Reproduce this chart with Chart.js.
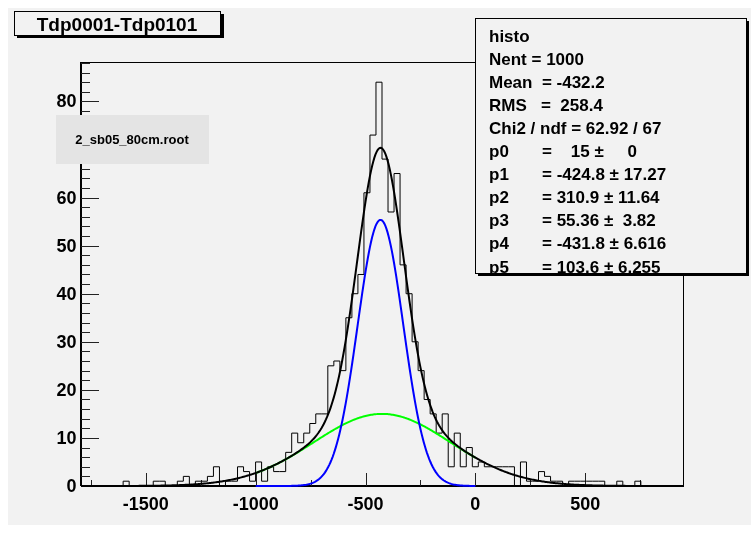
<!DOCTYPE html>
<html>
<head>
<meta charset="utf-8">
<script src="https://cdn.jsdelivr.net/npm/chart.js@4.4.1/dist/chart.umd.min.js"></script>
<style>
html,body{margin:0;padding:0;background:#fff}
canvas{display:block}
</style>
</head>
<body>
<canvas id="histo" width="751" height="534"></canvas>
<script>
/* ---------------- DATA ---------------- */

const histTitle = "Tdp0001-Tdp0101"
const fileLabel = "2_sb05_80cm.root"

// histogram binning (100 bins)
const xMin = -1795
const xMax = 945
const binCounts = [
0,0,0,0,0,0,0,1,0,0,
0,0,1,1,0,0,1,2,0,1,
1,2,4,0,1,1,4,3,1,5,
1,4,3,3,7,11,9,11,13,15,
15,25,26,24,35,40,44,61,73,84,
68,57,65,46,40,30,24,18,15,11,
15,4,11,4,8,4,5,4,4,4,
4,4,0,5,1,1,3,2,1,1,
0,1,1,1,1,1,1,0,0,1,
0,0,1,0,0,0,0,0,0,0
]

// fit parameters from the stats box
const parNames = ["p0","p1","p2","p3","p4","p5"]
const parValues = [15,-424.8,310.9,55.36,-431.8,103.6]
const parText = ["=    15 \u00b1     0","= -424.8 \u00b1 17.27","= 310.9 \u00b1 11.64","= 55.36 \u00b1  3.82","= -431.8 \u00b1 6.616","= 103.6 \u00b1 6.255"]
const partRange = [-1000,0]

const statLines = ["histo","Nent = 1000","Mean  = -432.2","RMS   =  258.4","Chi2 / ndf = 62.92 / 67"]

const xTickLabels = [-1500,-1000,-500,0,500]
const yTickLabels = [0,10,20,30,40,50,60,70,80]
const yMax = 88.2

/* ---------------- BUILD SERIES ---------------- */

const binWidth = (xMax - xMin) / binCounts.length
const histPoints = binCounts.map((c,i) => ({x: xMin + i*binWidth, y: c}))
histPoints.push({x: xMax, y: binCounts[binCounts.length-1]})

function gaus(x, a, m, s){
return a*Math.exp(-0.5*((x-m)/s)*((x-m)/s))
}
function sample(from, to, fn){
const pts = []
for(let x = from; x <= to + 0.001; x += 5){
pts.push({x: x, y: fn(x)})
}
return pts
}
const p = parValues
const totalFit = sample(xMin, xMax, x => gaus(x,p[0],p[1],p[2]) + gaus(x,p[3],p[4],p[5]))
const wideFit = sample(partRange[0], partRange[1], x => gaus(x,p[0],p[1],p[2]))
const narrowFit = sample(partRange[0], partRange[1], x => gaus(x,p[3],p[4],p[5]))

/* ---------------- DECORATION PLUGIN ---------------- */

const FONT = '"Liberation Sans", Arial, Helvetica, sans-serif'

const rootPad = {
id: "rootPad",
beforeDraw(chart){
const c = chart.ctx
c.save()
c.fillStyle = "#ffffff"
c.fillRect(0,0,chart.width,chart.height)
c.fillStyle = "#f2f2f2"
c.fillRect(8,8,chart.width-8,517)
c.restore()
},
beforeDatasetsDraw(chart){
const c = chart.ctx
const xs = chart.scales.x
const ys = chart.scales.y
const a = chart.chartArea
c.save()

// frame
c.strokeStyle = "#000"
c.lineWidth = 1
c.strokeRect(Math.round(a.left)+0.5, Math.round(a.top)+0.5, Math.round(a.right-a.left), Math.round(a.bottom-a.top))
c.lineWidth = 2
c.beginPath()
c.moveTo(a.left, a.bottom)
c.lineTo(a.right, a.bottom)
c.moveTo(a.left, a.bottom)
c.lineTo(a.left, a.top)
c.stroke()

// y ticks
c.lineWidth = 1
c.strokeStyle = "#222"
c.beginPath()
for(let v = 0; v <= yMax; v += 2){
const y = Math.round(ys.getPixelForValue(v)) + 0.5
const len = (v % 10 === 0) ? 18 : 9
c.moveTo(a.left, y)
c.lineTo(a.left + len, y)
}
// x ticks
for(let v = -1750; v <= xMax; v += 250){
const x = Math.round(xs.getPixelForValue(v)) + 0.5
const len = (v % 500 === 0) ? 13 : 6
c.moveTo(x, a.bottom)
c.lineTo(x, a.bottom - len)
}
c.stroke()

// tick labels
c.fillStyle = "#000"
c.font = "bold 18px " + FONT
c.textAlign = "right"
c.textBaseline = "middle"
yTickLabels.forEach(v => {
c.fillText(String(v), 76.5, ys.getPixelForValue(v) + 1)
})
c.textAlign = "center"
c.textBaseline = "alphabetic"
xTickLabels.forEach(v => {
c.fillText(String(v), xs.getPixelForValue(v), 510)
})
c.restore()
},
afterDraw(chart){
const c = chart.ctx
c.save()

// file label box
c.fillStyle = "#e4e4e4"
c.fillRect(56,115,153,49)
c.fillStyle = "#000"
c.font = "bold 13px " + FONT
c.textAlign = "center"
c.textBaseline = "middle"
c.fillText(fileLabel, 132, 140)

// title box
c.fillStyle = "#000"
c.fillRect(17,35,207,3)
c.fillRect(221,14,3,24)
c.fillStyle = "#f2f2f2"
c.fillRect(14,11,207,24)
c.strokeStyle = "#000"
c.lineWidth = 1
c.strokeRect(14.5,11.5,206,24)
c.fillStyle = "#000"
c.font = "bold 19px " + FONT
c.textAlign = "center"
c.textBaseline = "alphabetic"
c.fillText(histTitle, 117, 31)

// stats box
c.fillStyle = "#000"
c.fillRect(478,273,271,3)
c.fillRect(746,21,3,255)
c.fillStyle = "#f2f2f2"
c.fillRect(475,18,271,255)
c.strokeRect(475.5,18.5,271,255)
c.fillStyle = "#000"
c.font = "bold 17px " + FONT
c.textAlign = "left"
c.textBaseline = "alphabetic"
statLines.forEach((s,i) => {
c.fillText(s, 489, 41.5 + 23.1*i)
})
parNames.forEach((n,i) => {
const y = 41.5 + 23.1*(i + statLines.length)
c.fillText(n, 489, y)
c.fillText(parText[i], 542, y)
})

c.restore()
}
}

/* ---------------- CHART ---------------- */

const ctx = document.getElementById("histo").getContext("2d")

new Chart(ctx,{
type:"line",
data:{
datasets:[
{data: totalFit, borderColor:"#000000", borderWidth:2, pointRadius:0, tension:0, fill:false, clip:3},
{data: narrowFit, borderColor:"#0000ff", borderWidth:2, pointRadius:0, tension:0, fill:false, clip:3},
{data: wideFit, borderColor:"#00ff00", borderWidth:2, pointRadius:0, tension:0, fill:false, clip:3},
{data: histPoints, borderColor:"#000000", borderWidth:1, pointRadius:0, stepped:"before", fill:false}
]
},
options:{
responsive:false,
animation:false,
devicePixelRatio:1,
layout:{padding:{left:81, top:62, right:68, bottom:48}},
scales:{
x:{type:"linear", min:xMin, max:xMax, display:false},
y:{type:"linear", min:0, max:yMax, display:false}
},
plugins:{legend:{display:false}, tooltip:{enabled:false}}
},
plugins:[rootPad]
})
</script>
</body>
</html>
